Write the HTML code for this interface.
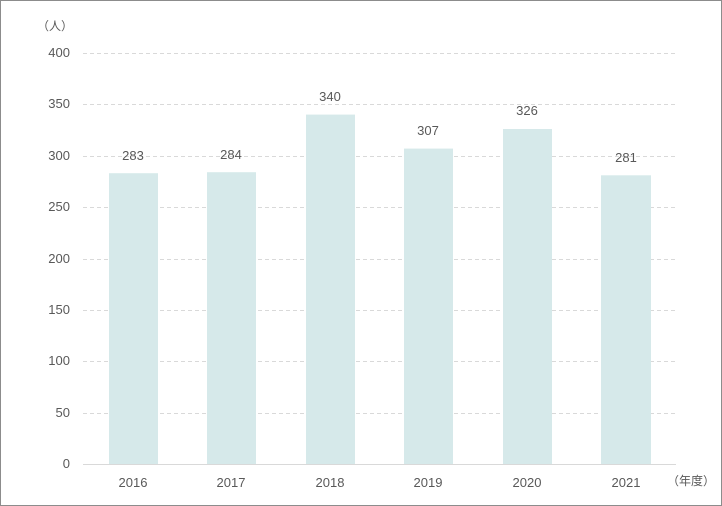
<!DOCTYPE html>
<html><head><meta charset="utf-8"><style>
body{margin:0;background:#fff}
svg{display:block}
text{font-family:"Liberation Sans","Noto Sans CJK JP",sans-serif;font-size:13px;fill:#595959}
</style></head><body>
<svg width="722" height="506" viewBox="0 0 722 506" xmlns="http://www.w3.org/2000/svg">
<rect x="0.5" y="0.5" width="721" height="505" fill="#fff" stroke="#8c8c8c" stroke-width="1"/>
<text x="37" y="30" style="font-size:12px">（人）</text>
<g stroke="#d9d9d9" stroke-width="1" stroke-dasharray="4,3">
<line x1="83" x2="676" y1="53.5" y2="53.5"/>
<line x1="83" x2="676" y1="104.5" y2="104.5"/>
<line x1="83" x2="676" y1="156.5" y2="156.5"/>
<line x1="83" x2="676" y1="207.5" y2="207.5"/>
<line x1="83" x2="676" y1="259.5" y2="259.5"/>
<line x1="83" x2="676" y1="310.5" y2="310.5"/>
<line x1="83" x2="676" y1="361.5" y2="361.5"/>
<line x1="83" x2="676" y1="413.5" y2="413.5"/>
</g>
<g text-anchor="end">
<text x="70" y="57">400</text><text x="70" y="108">350</text><text x="70" y="160">300</text>
<text x="70" y="211">250</text><text x="70" y="263">200</text><text x="70" y="314">150</text>
<text x="70" y="365">100</text><text x="70" y="417">50</text><text x="70" y="468">0</text>
</g>
<g fill="#d6e9ea">
<rect x="109" y="173.2" width="49" height="291"/>
<rect x="207" y="172.2" width="49" height="292"/>
<rect x="306" y="114.6" width="49" height="350"/>
<rect x="404" y="148.6" width="49" height="316"/>
<rect x="503" y="129" width="49" height="335"/>
<rect x="601" y="175.3" width="50" height="289"/>
</g>
<line x1="83" x2="676" y1="464.5" y2="464.5" stroke="#d9d9d9"/>
<g text-anchor="middle">
<text x="133" y="160">283</text><text x="231" y="159">284</text><text x="330" y="101">340</text>
<text x="428" y="135">307</text><text x="527" y="115">326</text><text x="626" y="162">281</text>
<text x="133" y="487">2016</text><text x="231" y="487">2017</text><text x="330" y="487">2018</text>
<text x="428" y="487">2019</text><text x="527" y="487">2020</text><text x="626" y="487">2021</text>
</g>
<text x="667" y="485" style="font-size:12px">（年度）</text>
</svg>
</body></html>
